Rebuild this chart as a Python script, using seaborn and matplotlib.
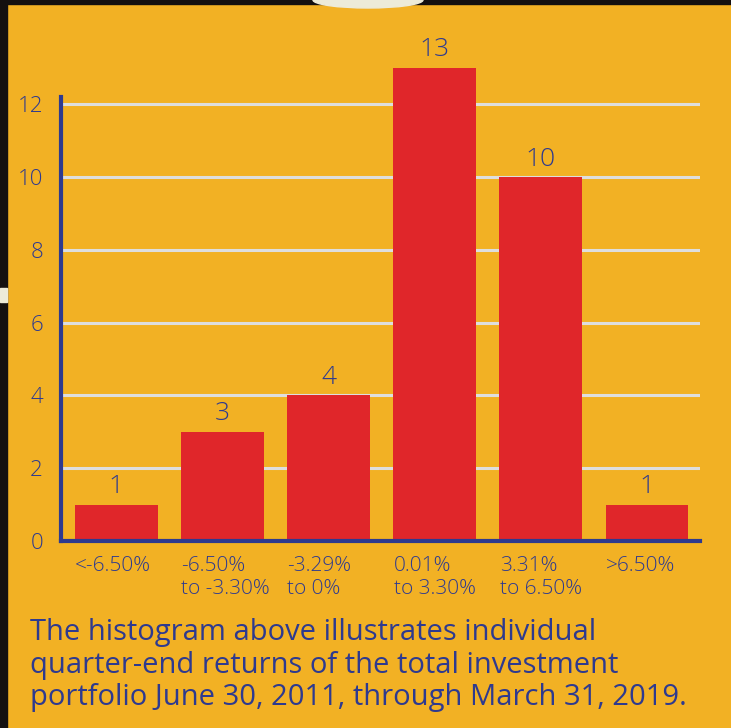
import matplotlib
matplotlib.use("Agg")
import matplotlib.pyplot as plt
import matplotlib.transforms as mtransforms
from matplotlib.patches import Rectangle, Ellipse
import seaborn as sns
import pandas as pd

categories = ["<-6.50%", "-6.50%\nto -3.30%", "-3.29%\nto 0%", "0.01%\nto 3.30%", "3.31%\nto 6.50%", ">6.50%"]
counts = [1, 3, 4, 13, 10, 1]
yticks = [0, 2, 4, 6, 8, 10, 12]
caption = ("The histogram above illustrates individual\n"
           "quarter-end returns of the total investment\n"
           "portfolio June 30, 2011, through March 31, 2019.")

BG = "#F2B124"
RED = "#E0262A"
NAVY = "#2E3A8F"
GRID = "#DEDEDE"

sns.set_style("white")
plt.rcParams["font.family"] = ["Open Sans", "DejaVu Sans"]

df = pd.DataFrame({"cat": categories, "count": counts})

fig = plt.figure(figsize=(7.31, 7.28), dpi=100)
fig.patch.set_facecolor(BG)
ax = fig.add_axes([61/731, 1-541/728, (700-61)/731, (541-97)/728])
ax.set_facecolor(BG)

for y in yticks[1:]:
    ax.axhline(y, color=GRID, lw=2.2, zorder=0.5)

sns.barplot(data=df, x="cat", y="count", color=RED, saturation=1,
            width=0.78, ax=ax, zorder=2)
for p in ax.patches:
    p.set_clip_on(False)
    p.set_edgecolor("none")

ax.set_ylim(0, 12.2)
ax.set_xlim(-0.52, 5.5)
ax.set_yticks(yticks)
ax.set_yticklabels([str(v) for v in yticks], fontsize=16, color=NAVY,
                   fontweight="light")
ax.tick_params(axis="y", length=0, pad=13)
ax.tick_params(axis="x", length=0, pad=11)
ax.set_xticks(range(len(categories)))
ax.set_xticklabels(categories, fontsize=15, color=NAVY, ha="left",
                   multialignment="left", linespacing=1.2, fontweight="light")
offset = mtransforms.ScaledTranslation(-41/100, 0, fig.dpi_scale_trans)
for lbl in ax.get_xticklabels():
    lbl.set_transform(lbl.get_transform() + offset)
ax.set_xlabel("")
ax.set_ylabel("")

for i, v in enumerate(counts):
    ax.annotate(str(v), (i, v), xytext=(0, 4), textcoords="offset points",
                ha="center", va="bottom", fontsize=19, color=NAVY,
                fontweight="light", annotation_clip=False)

for s in ["top", "right"]:
    ax.spines[s].set_visible(False)
for s in ["left", "bottom"]:
    ax.spines[s].set_color(NAVY)
    ax.spines[s].set_linewidth(3)
    ax.spines[s].set_zorder(3)

fig.text(30/731, 1-618/728, caption, fontsize=21, color=NAVY,
         ha="left", va="top", linespacing=1.16)

# decorative frame edges
fig.patches.append(Rectangle((0, 0), 7/731, 1, transform=fig.transFigure,
                             color="#141010", zorder=5))
fig.patches.append(Rectangle((0, 1-4/728), 1, 4/728, transform=fig.transFigure,
                             color="#141010", zorder=5))
fig.patches.append(Rectangle((0, 1-302/728), 7/731, 14/728, transform=fig.transFigure,
                             color="#EDEBD8", zorder=6))
fig.patches.append(Ellipse((368/731, 1.0), 110/731, 16/728, transform=fig.transFigure,
                           color="#EDEBD8", zorder=6))

fig.savefig("out.png", dpi=100, facecolor=BG)
